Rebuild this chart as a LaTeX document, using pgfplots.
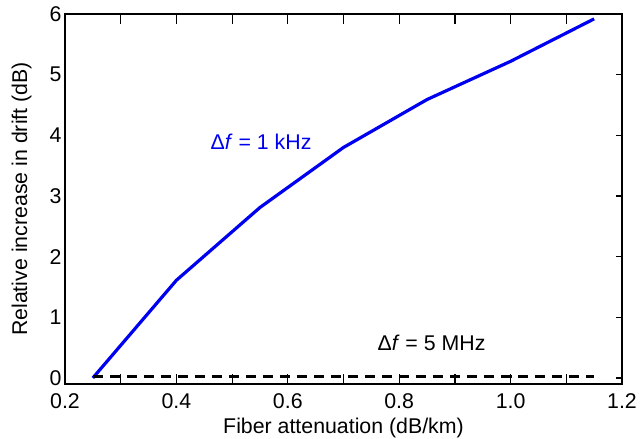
\documentclass[border=0pt]{standalone}
\usepackage{fontspec}
\setmainfont{Liberation Sans}
\usepackage{pgfplots}
\pgfplotsset{compat=1.18}
\definecolor{lineblue}{RGB}{0,0,240}
\newcommand{\fs}{\fontsize{10.7}{12.8}\selectfont}
\begin{document}
\begin{tikzpicture}
\begin{axis}[
  at={(0,0)}, anchor=south west,
  scale only axis, width=278.5bp, height=185bp,
  xmin=0.2, xmax=1.2, ymin=-0.1, ymax=6,
  xtick={0.2,0.4,0.6,0.8,1.0,1.2},
  xticklabels={0.2,0.4,0.6,0.8,1.0,1.2},
  ytick={0,1,2,3,4,5,6},
  yticklabels={0,1,2,3,4,5,6},
  ytick pos=right, yticklabel pos=left,
  tick align=inside,
  major tick length=3bp,
  xtick style={draw=none},
  ytick style={black, line width=0.6bp},
  axis background/.style={draw=black, line width=0.9bp},
  tick label style={font=\fs},
  label style={font=\fs},
  xticklabel style={yshift=-1.4bp},
  yticklabel style={inner xsep=1.5bp},
  xlabel={Fiber attenuation (dB/km)},
  ylabel={Relative increase in drift (dB)},
  xlabel style={at={(axis description cs:0.5,0)}, anchor=base, yshift=-24.5bp},
  ylabel style={at={(axis description cs:0,0.5)}, anchor=base, yshift=19bp},
  clip=false,
]
\pgfplotsinvokeforeach{0.3,0.4,0.5,0.6,0.7,0.8,0.9,1.0,1.1}{
  \draw[black, line width=0.6bp] (axis cs:#1,-0.1) -- ([yshift=5bp]axis cs:#1,-0.1);
  \draw[black, line width=0.6bp] (axis cs:#1,6) -- ([yshift=-5bp]axis cs:#1,6);
}
\addplot[lineblue, line width=1.6bp] coordinates {
  (0.25,0.0) (0.40,1.61) (0.55,2.81) (0.70,3.80) (0.85,4.59) (1.00,5.22) (1.15,5.92)
};
\addplot[black, line width=1.6bp, dash pattern=on 5bp off 3.5bp] coordinates {
  (0.25,0.02) (0.40,0.02) (0.55,0.02) (0.70,0.02) (0.85,0.02) (1.00,0.02) (1.15,0.02)
};
\node[lineblue, font=\fs] at (axis cs:0.552,3.89) {Δ\textit{f} = 1 kHz};
\node[black, font=\fs] at (axis cs:0.858,0.57) {Δ\textit{f} = 5 MHz};
\end{axis}
\pgfresetboundingbox
\path[use as bounding box] (-32.5bp,-27.5bp) rectangle (287.5bp,192bp);
\end{tikzpicture}
\end{document}
